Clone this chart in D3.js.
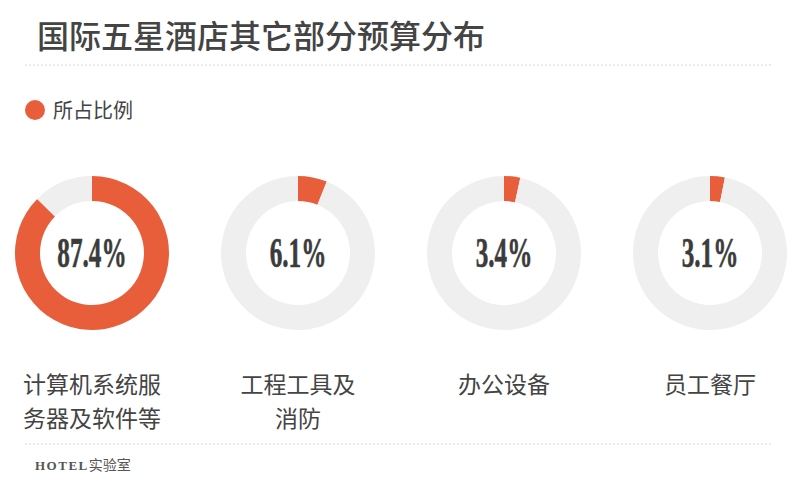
<!DOCTYPE html>
<html><head><meta charset="utf-8">
<script src="https://cdn.jsdelivr.net/npm/d3@7/dist/d3.min.js"></script>
<style>
html,body{margin:0;padding:0;background:#fff;}
svg{display:block;}
</style></head>
<body>
<svg id="chart" width="800" height="482"></svg>
<script>
const title = "国际五星酒店其它部分预算分布";
const legendLabel = "所占比例";
const categories = ["计算机系统服务器及软件等", "工程工具及消防", "办公设备", "员工餐厅"];
const categoryLines = [["计算机系统服", "务器及软件等"], ["工程工具及", "消防"], ["办公设备"], ["员工餐厅"]];
const values = [87.4, 6.1, 3.4, 3.1];
const footer = ["HOTEL", "实验室"];

const W = 800, H = 482;
const orange = "#E85D3A", grey = "#EFEFEF", textCol = "#444";
const cjk = "'Noto Sans CJK SC','Noto Sans',sans-serif";
const svg = d3.select("#chart");

svg.append("text").attr("x", 37).attr("y", 48)
  .attr("font-family", cjk).attr("font-size", 32).attr("font-weight", 500)
  .attr("fill", textCol).text(title);

svg.append("line").attr("x1", 25).attr("x2", 773).attr("y1", 65).attr("y2", 65)
  .attr("stroke", "#d6d6d6").attr("stroke-width", 1).attr("stroke-dasharray", "2,2");

svg.append("circle").attr("cx", 35).attr("cy", 110).attr("r", 10).attr("fill", orange);
svg.append("text").attr("x", 53).attr("y", 118)
  .attr("font-family", cjk).attr("font-size", 20).attr("fill", textCol).text(legendLabel);

const x = d3.scalePoint().domain(categories).range([92, 710]);
const cy = 253, rOuter = 77, rInner = 52;
const pie = d3.pie().sort(null).value(d => d);
const arc = d3.arc().innerRadius(rInner).outerRadius(rOuter);

const g = svg.selectAll("g.donut").data(categories).join("g")
  .attr("class", "donut")
  .attr("transform", d => `translate(${x(d)},${cy})`);

g.each(function(d, i) {
  const v = values[i];
  const arcs = pie([v, 100 - v]);
  d3.select(this).selectAll("path").data(arcs).join("path")
    .attr("d", arc).attr("fill", (a, j) => j === 0 ? orange : grey);
  d3.select(this).append("text")
    .attr("text-anchor", "middle")
    .attr("transform", "translate(0,14) scale(0.6,1)")
    .attr("font-family", "'Liberation Serif','DejaVu Serif',serif")
    .attr("font-weight", "bold").attr("font-size", 42)
    .attr("fill", "#3b3b3b").attr("stroke", "#3b3b3b").attr("stroke-width", 0.6)
    .text(v.toFixed(1) + "%");
});

categories.forEach((c, i) => {
  categoryLines[i].forEach((ln, k) => {
    svg.append("text").attr("text-anchor", "middle")
      .attr("font-family", cjk).attr("font-size", 23).attr("fill", textCol)
      .attr("x", x(c)).attr("y", 393 + k * 34).text(ln);
  });
});

svg.append("line").attr("x1", 25).attr("x2", 773).attr("y1", 444).attr("y2", 444)
  .attr("stroke", "#d6d6d6").attr("stroke-width", 1).attr("stroke-dasharray", "2,2");

const ft = svg.append("text").attr("x", 35).attr("y", 470).attr("fill", "#555");
ft.append("tspan").attr("font-family", "'Liberation Serif',serif").attr("font-size", 13)
  .attr("font-weight", "bold").attr("letter-spacing", 1.5).text(footer[0]);
ft.append("tspan").attr("font-family", cjk).attr("font-size", 14).text(footer[1]);
</script>
</body></html>
